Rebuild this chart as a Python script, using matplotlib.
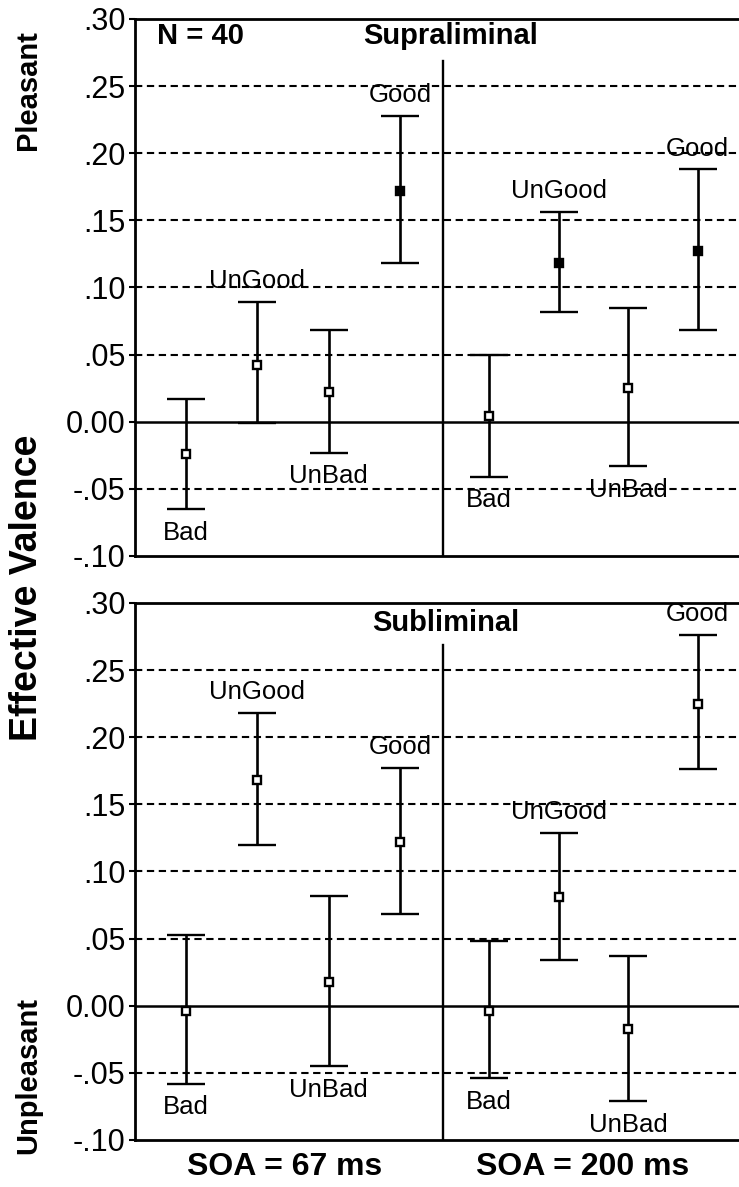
import numpy as np
import matplotlib
matplotlib.use("Agg")
import matplotlib.pyplot as plt

plt.rcParams['font.family'] = ['Liberation Sans', 'DejaVu Sans']

words = ['Bad', 'UnGood', 'UnBad', 'Good']
soa_labels = ['SOA = 67 ms', 'SOA = 200 ms']
panel_titles = ['Supraliminal', 'Subliminal']

# supraliminal, SOA 67 / 200
supra_67_mean = [-0.024, 0.042, 0.022, 0.172]
supra_67_lo = [-0.065, -0.001, -0.023, 0.118]
supra_67_hi = [0.017, 0.089, 0.068, 0.228]
supra_200_mean = [0.004, 0.118, 0.025, 0.127]
supra_200_lo = [-0.041, 0.082, -0.033, 0.068]
supra_200_hi = [0.050, 0.156, 0.085, 0.188]

# subliminal, SOA 67 / 200
sub_67_mean = [-0.004, 0.168, 0.018, 0.122]
sub_67_lo = [-0.058, 0.120, -0.045, 0.068]
sub_67_hi = [0.053, 0.218, 0.082, 0.177]
sub_200_mean = [-0.004, 0.081, -0.017, 0.225]
sub_200_lo = [-0.054, 0.034, -0.071, 0.176]
sub_200_hi = [0.048, 0.129, 0.037, 0.276]

# filled marker = significant
supra_67_sig = [False, False, False, True]
supra_200_sig = [False, True, False, True]
sub_67_sig = [False, False, False, False]
sub_200_sig = [False, False, False, False]

yticks = [-0.10, -0.05, 0.00, 0.05, 0.10, 0.15, 0.20, 0.25, 0.30]
ytick_labels = ['-.10', '-.05', '0.00', '.05', '.10', '.15', '.20', '.25', '.30']

panels = [
    [(supra_67_mean, supra_67_lo, supra_67_hi, supra_67_sig),
     (supra_200_mean, supra_200_lo, supra_200_hi, supra_200_sig)],
    [(sub_67_mean, sub_67_lo, sub_67_hi, sub_67_sig),
     (sub_200_mean, sub_200_lo, sub_200_hi, sub_200_sig)],
]

group_x = [np.arange(4) * 1.0, 4.25 + np.arange(4) * 0.975]
divider = 3.60

fig = plt.figure(figsize=(7.39, 11.87), dpi=100)
ax_top = fig.add_axes([0.1827, 0.5316, 0.8173, 0.4524])
ax_bot = fig.add_axes([0.1827, 0.0396, 0.8173, 0.4524])

for k, ax in enumerate([ax_top, ax_bot]):
    ax.set_xlim(-0.715, 7.756)
    ax.set_ylim(-0.10, 0.30)

    for v in yticks[1:-1]:
        if v == 0:
            ax.axhline(v, color='black', lw=1.8, zorder=1)
        else:
            ax.axhline(v, color='black', lw=1.5, ls=(0, (3.5, 2.2)), zorder=1)

    ax.plot([divider, divider], [-0.10, 0.269], color='black', lw=1.7, zorder=1)

    for g, (mean, lo, hi, sig) in enumerate(panels[k]):
        mean = np.array(mean)
        lo = np.array(lo)
        hi = np.array(hi)
        xs = group_x[g]
        for i in range(4):
            ax.errorbar(xs[i], mean[i], yerr=[[mean[i] - lo[i]], [hi[i] - mean[i]]],
                        fmt='s', color='black', ecolor='black', elinewidth=1.9,
                        capsize=14, capthick=1.9, markersize=6, mew=1.7,
                        markerfacecolor='black' if sig[i] else 'white', zorder=3)
            if words[i] in ('Bad', 'UnBad'):
                ax.annotate(words[i], (xs[i], lo[i]), xytext=(0, -17),
                            textcoords='offset points', ha='center', va='center',
                            fontsize=18.5, zorder=4)
            else:
                ax.annotate(words[i], (xs[i], hi[i]), xytext=(0, 15),
                            textcoords='offset points', ha='center', va='center',
                            fontsize=18.5, zorder=4)

    ax.set_yticks(yticks)
    ax.set_yticklabels(ytick_labels)
    ax.set_xticks([])
    ax.tick_params(axis='y', direction='out', length=4, width=1.5,
                   labelsize=22, pad=3)
    for s in ['top', 'left', 'bottom']:
        ax.spines[s].set_linewidth(2)
    ax.spines['right'].set_visible(False)

ax_top.text(0.523, 0.287, panel_titles[0], transform=ax_top.get_yaxis_transform(),
            ha='center', va='center', fontsize=21, fontweight='bold')
ax_top.text(0.036, 0.287, 'N = 40', transform=ax_top.get_yaxis_transform(),
            ha='left', va='center', fontsize=21, fontweight='bold')
ax_bot.text(0.515, 0.285, panel_titles[1], transform=ax_bot.get_yaxis_transform(),
            ha='center', va='center', fontsize=21, fontweight='bold')

fig.text(285 / 739, 1 - 1167 / 1187, soa_labels[0], ha='center', va='center',
         fontsize=23, fontweight='bold')
fig.text(583 / 739, 1 - 1167 / 1187, soa_labels[1], ha='center', va='center',
         fontsize=23, fontweight='bold')

fig.text(28 / 739, 1 - 90 / 1187, 'Pleasant', rotation=90, ha='center', va='center',
         fontsize=21, fontweight='bold')
fig.text(27 / 739, 1 - 588 / 1187, 'Effective Valence', rotation=90, ha='center',
         va='center', fontsize=27, fontweight='bold')
fig.text(28 / 739, 1 - 1075 / 1187, 'Unpleasant', rotation=90, ha='center', va='center',
         fontsize=21, fontweight='bold')

fig.savefig('out.png', dpi=100)
